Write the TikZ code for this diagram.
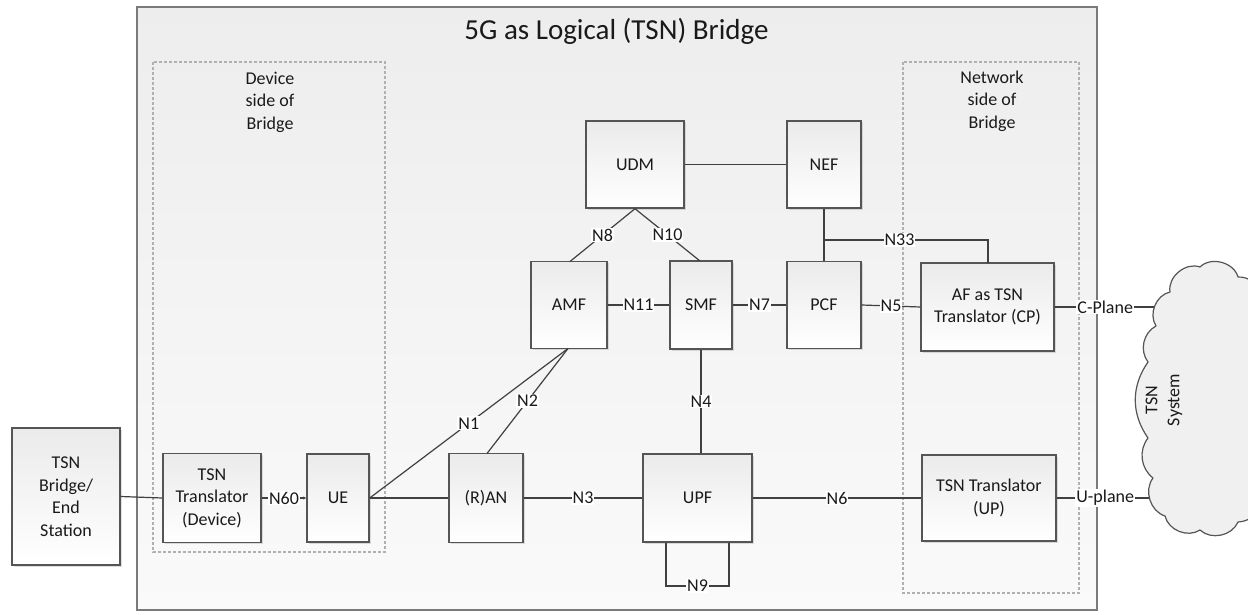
\documentclass[tikz,border=0pt]{standalone}
\usepackage{fontspec}
\setmainfont{Carlito}
\usetikzlibrary{shadows,arrows.meta}
\definecolor{boxline}{HTML}{555555}
\definecolor{wire}{HTML}{404040}
\definecolor{outerline}{HTML}{7A7A7A}
\definecolor{dashline}{HTML}{B0B0B0}
\definecolor{txt}{HTML}{1A1A1A}
\begin{document}
\begin{tikzpicture}[x=1pt,y=-1pt,
  nf/.style={draw=boxline, line width=1.4pt, top color=black!8, bottom color=white,
    drop shadow={shadow xshift=1.5pt, shadow yshift=-1.5pt, opacity=0.25},
    align=center, text=txt, font=\fontsize{18}{22.5}\selectfont, inner sep=1pt},
  wireline/.style={draw=wire, line width=1.2pt},
  lbl/.style={fill=white, inner sep=1pt, text=txt, font=\fontsize{18}{20}\selectfont},
  sidetext/.style={align=center, text=txt, font=\fontsize{18}{22.5}\selectfont},
  sidebox/.style={draw=dashline, line width=1.1pt, dash pattern=on 3pt off 2pt},
  cloudline/.style={draw=boxline, line width=1.2pt, fill=black!6, line join=round}
]
\useasboundingbox (0,0) rectangle (1248,615);
\fill[white] (0,0) rectangle (1248,615);

% outer logical bridge
\shade[top color=black!7, bottom color=black!2] (137,7) rectangle (1097,610);
\draw[draw=outerline, line width=1.8pt] (137,7) rectangle (1097,610);
\node[text=txt, font=\fontsize{29}{32}\selectfont] (title) at (616.5,31) {5G as Logical (TSN) Bridge};

% dashed side regions
\draw[sidebox] (153,62) rectangle (385,552);
\node[sidetext] (devtxt) at (270,102) {Device\\side of\\Bridge};
\draw[sidebox] (903,62) rectangle (1079,593);
\node[sidetext] (nettxt) at (992,101) {Network\\side of\\Bridge};

% network functions
\node[nf, minimum width=108pt, minimum height=137pt] (tsnb) at (66,496.5) {TSN\\Bridge/\\End\\Station};
\node[nf, minimum width=98pt, minimum height=89pt] (trd) at (212,498) {TSN\\Translator\\(Device)};
\node[nf, minimum width=62pt, minimum height=88pt] (ue) at (338,498) {UE};
\node[nf, minimum width=74pt, minimum height=89pt] (ran) at (486,498) {(R)AN};
\node[nf, minimum width=109pt, minimum height=88pt] (upf) at (697.5,498) {UPF};
\node[nf, minimum width=134pt, minimum height=86pt] (trup) at (989,498) {TSN Translator\\(UP)};
\node[nf, minimum width=76pt, minimum height=87pt] (amf) at (569,305) {AMF};
\node[nf, minimum width=62pt, minimum height=88pt] (smf) at (701,305) {SMF};
\node[nf, minimum width=74pt, minimum height=87pt] (pcf) at (824,305) {PCF};
\node[nf, minimum width=133pt, minimum height=88pt] (af) at (987.5,307) {AF as TSN\\Translator (CP)};
\node[nf, minimum width=98pt, minimum height=87pt] (udm) at (635,164.5) {UDM};
\node[nf, minimum width=74pt, minimum height=87pt] (nef) at (824,164.5) {NEF};

% helper coordinates
\coordinate (amfb) at (568,348.5);
\coordinate (rant) at (487,453.5);
\coordinate (amft) at (570,261.5);
\coordinate (smft) at (700,261);
\coordinate (j33) at (824,240);
\coordinate (aft) at (988,263);
\coordinate (n9a) at (666,586);
\coordinate (n9b) at (729,586);
\coordinate (cpend) at (1175,307);
\coordinate (upend) at (1175,498);

% connectors
\draw[wireline] (tsnb.east) -- (trd.west);
\draw[wireline, -{Latex[length=3pt,width=3.5pt]}] (trd.east) -- node[lbl] {N60} (ue.west);
\draw[wireline] (ue.east) -- (ran.west);
\draw[wireline] (ue.east) -- node[lbl, pos=0.5] {N1} (amfb);
\draw[wireline] (rant) -- node[lbl] {N2} (amfb);
\draw[wireline] (ran.east) -- node[lbl] {N3} (upf.west);
\draw[wireline] (amf.east) -- node[lbl] {N11} (smf.west);
\draw[wireline] (smf.east) -- node[lbl] {N7} (pcf.west);
\draw[wireline] (pcf.east) -- node[lbl] {N5} (af.west);
\draw[wireline] (udm.south) -- node[lbl] {N8} (amft);
\draw[wireline] (udm.south) -- node[lbl] {N10} (smft);
\draw[wireline] (udm.east) -- (nef.west);
\draw[wireline] (nef.south) -- (pcf.north);
\draw[wireline] (j33) -- node[lbl, pos=0.46] {N33} (j33 -| aft) -- (aft);
\draw[wireline] (smf.south) -- node[lbl] {N4} (upf.north -| smf.south);
\draw[wireline] (upf.east) -- node[lbl] {N6} (trup.west);
\draw[wireline] (upf.south -| n9a) -- (n9a) -- node[lbl] {N9} (n9b) -- (upf.south -| n9b);
\draw[wireline] (af.east) -- node[lbl, pos=0.42] {C-Plane} (cpend);
\draw[wireline] (trup.east) -- node[lbl, pos=0.41] {U-plane} (upend);

% TSN system cloud
\path[cloudline] (1170,292) to[bend left=60] (1200,267) to[bend left=60] (1238,277)
  to[bend left=60] (1265,320) to[bend left=40] (1265,480) to[bend left=55] (1238,522)
  to[bend left=55] (1200,530) to[bend left=55] (1165,516) to[bend left=55] (1153,478)
  to[bend left=45] (1148,438) to[bend left=35] (1148,362) to[bend left=50] (1156,326)
  to[bend left=55] (1170,292) -- cycle;
\node[rotate=90, align=center, text=txt, font=\fontsize{18}{22}\selectfont] (cloudtxt) at (1164,400) {TSN\\System};
\end{tikzpicture}
\end{document}
